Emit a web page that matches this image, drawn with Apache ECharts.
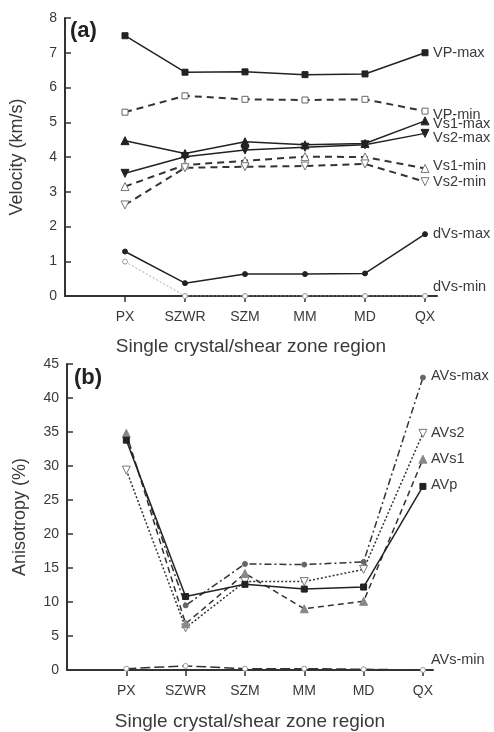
<!DOCTYPE html>
<html>
<head>
<meta charset="utf-8">
<script src="https://cdn.jsdelivr.net/npm/echarts@6/dist/echarts.min.js"></script>
<style>
  html, body { margin: 0; padding: 0; background: #fff; }
  #chart { width: 494px; height: 732px; }
</style>
</head>
<body>
<div id="chart"></div>
<script>
// categories on the x axis (both panels)
var categories = ['PX', 'SZWR', 'SZM', 'MM', 'MD', 'QX'];

// (a) velocities km/s
var vpMax  = [7.49, 6.44, 6.45, 6.37, 6.39, 7.00];
var vpMin  = [5.29, 5.76, 5.66, 5.64, 5.66, 5.32];
var vs1Max = [4.47, 4.10, 4.44, 4.35, 4.39, 5.04];
var vs2Max = [3.53, 4.01, 4.20, 4.28, 4.35, 4.68];
var vs1Min = [3.15, 3.77, 3.89, 4.01, 4.00, 3.67];
var vs2Min = [2.62, 3.69, 3.72, 3.74, 3.80, 3.29];
var dvsMax = [1.28, 0.37, 0.63, 0.63, 0.65, 1.78];
var dvsMin = [0.99, 0, 0, 0, 0, 0];

// (b) anisotropy %
var avsMax = [34.2, 9.5, 15.6, 15.5, 15.9, 43.0];
var avs2   = [29.4, 6.2, 13.0, 13.0, 14.8, 34.8];
var avs1   = [34.8, 6.8, 14.2, 9.0, 10.1, 31.0];
var avp    = [33.8, 10.8, 12.6, 11.9, 12.2, 27.0];
var avsMin = [0.2, 0.6, 0.2, 0.2, 0.1, 0.0];

var yTicksA = [0, 1, 2, 3, 4, 5, 6, 7, 8];
var yTicksB = [0, 5, 10, 15, 20, 25, 30, 35, 40, 45];

var FONT = '"Liberation Sans", Arial, sans-serif';
var TXT = '#3a3a3a';
var AX = '#333';

function pts(arr) {
  return arr.map(function (v, i) { return [i, v]; });
}

// one line series; st holds the look of it
function mk(name, arr, idx, st) {
  return {
    name: name,
    type: 'line',
    xAxisIndex: idx,
    yAxisIndex: idx,
    data: pts(arr),
    symbol: st.symbol || 'circle',
    symbolSize: st.size || 6,
    symbolRotate: st.rot || 0,
    showSymbol: true,
    z: st.z || 2,
    lineStyle: { color: st.line || '#222', width: st.width || 1.5, type: st.type || 'solid' },
    itemStyle: { color: st.fill || '#222', borderColor: st.border || st.fill || '#222', borderWidth: 1 },
    endLabel: {
      show: true,
      formatter: '{a}',
      color: TXT,
      fontFamily: FONT,
      fontSize: 14.5,
      distance: 8,
      offset: [0, st.dy || 0]
    },
    emphasis: { disabled: true }
  };
}

function xAxisFor(idx, max, gap) {
  return {
    type: 'value',
    gridIndex: idx,
    min: -1,
    max: max,
    name: 'Single crystal/shear zone region',
    nameLocation: 'middle',
    nameGap: gap,
    nameTextStyle: { color: TXT, fontFamily: FONT, fontSize: 19 },
    splitLine: { show: false },
    axisLine: { onZero: false, lineStyle: { color: AX, width: 2 } },
    axisTick: { show: true, inside: false, length: 6, lineStyle: { color: AX, width: 1.5 }, customValues: [0, 1, 2, 3, 4, 5] },
    axisLabel: {
      color: TXT, fontFamily: FONT, fontSize: 14, margin: 14,
      customValues: [0, 1, 2, 3, 4, 5],
      formatter: function (v) { return categories[Math.round(v)] || ''; }
    }
  };
}

function yAxisFor(idx, ticks, name, gap) {
  return {
    type: 'value',
    gridIndex: idx,
    min: ticks[0],
    max: ticks[ticks.length - 1],
    interval: ticks[1] - ticks[0],
    name: name,
    nameLocation: 'middle',
    nameGap: gap,
    nameTextStyle: { color: TXT, fontFamily: FONT, fontSize: 18 },
    splitLine: { show: false },
    axisLine: { show: true, onZero: false, lineStyle: { color: AX, width: 2 } },
    axisTick: { show: true, inside: true, length: 6, lineStyle: { color: AX, width: 1.5 } },
    axisLabel: { color: TXT, fontFamily: FONT, fontSize: 14, margin: 8 }
  };
}

var chart = echarts.init(document.getElementById('chart'), null, { renderer: 'canvas' });

var option = {
  animation: false,
  backgroundColor: '#fff',
  grid: [
    { left: 62, right: 57, top: 18, height: 278 },
    { left: 67, right: 61, top: 364, height: 306 }
  ],
  xAxis: [xAxisFor(0, 5.2, 41), xAxisFor(1, 5.17, 42)],
  yAxis: [
    yAxisFor(0, yTicksA, 'Velocity (km/s)', 39),
    yAxisFor(1, yTicksB, 'Anisotropy (%)', 38)
  ],
  graphic: [
    { type: 'text', left: 70, top: 20, style: { text: '(a)', font: 'bold 22px ' + FONT, fill: '#222' } },
    { type: 'text', left: 74, top: 367, style: { text: '(b)', font: 'bold 22px ' + FONT, fill: '#222' } }
  ],
  series: [
    mk('VP-max', vpMax, 0, { symbol: 'rect', size: 6 }),
    mk('VP-min', vpMin, 0, { symbol: 'rect', size: 6, fill: '#fff', border: '#666', line: '#333', type: [7, 5], width: 2, dy: 4 }),
    mk('Vs1-max', vs1Max, 0, { symbol: 'triangle', size: 8, dy: 3 }),
    mk('Vs2-max', vs2Max, 0, { symbol: 'triangle', size: 8, rot: 180, dy: 5 }),
    mk('Vs1-min', vs1Min, 0, { symbol: 'triangle', size: 8, fill: '#fff', border: '#777', line: '#333', type: [7, 5], width: 2, dy: -2 }),
    mk('Vs2-min', vs2Min, 0, { symbol: 'triangle', size: 8, rot: 180, fill: '#fff', border: '#777', line: '#333', type: [7, 5], width: 2 }),
    mk('dVs-max', dvsMax, 0, { symbol: 'circle', size: 5 }),
    mk('dVs-min', dvsMin, 0, { symbol: 'circle', size: 5, fill: '#fff', border: '#999', line: '#aaa', type: [2, 2], width: 1, dy: -9 }),

    mk('AVs-max', avsMax, 1, { symbol: 'circle', size: 5, fill: '#666', line: '#333', type: [7, 3, 2, 3], width: 1.5, dy: -2 }),
    mk('AVs2', avs2, 1, { symbol: 'triangle', size: 8, rot: 180, fill: '#fff', border: '#777', line: '#333', type: [2, 2], width: 1.5 }),
    mk('AVs1', avs1, 1, { symbol: 'triangle', size: 8, fill: '#888', line: '#333', type: [6, 4], width: 1.5 }),
    mk('AVp', avp, 1, { symbol: 'rect', size: 6, width: 1.5, dy: -1 }),
    mk('AVs-min', avsMin, 1, { symbol: 'circle', size: 5, fill: '#fff', border: '#999', line: '#333', type: [10, 4], width: 1.5, dy: -10 })
  ]
};

chart.setOption(option);
</script>
</body>
</html>
